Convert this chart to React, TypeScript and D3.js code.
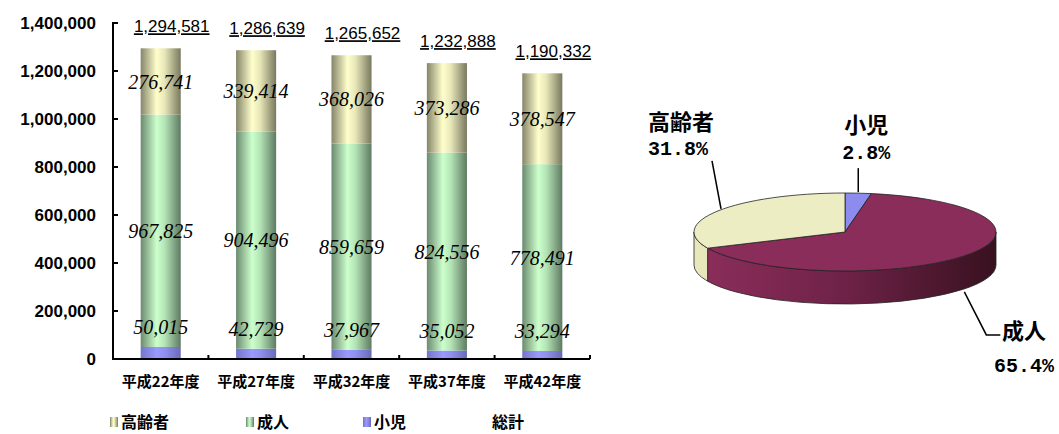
import React from 'react';
import * as d3 from 'd3';

const categories = ['平成22年度', '平成27年度', '平成32年度', '平成37年度', '平成42年度'];
const children = [50015, 42729, 37967, 35052, 33294];
const adults = [967825, 904496, 859659, 824556, 778491];
const elderly = [276741, 339414, 368026, 373286, 378547];
const totals = [1294581, 1286639, 1265652, 1232888, 1190332];
const yTicks = [0, 200000, 400000, 600000, 800000, 1000000, 1200000, 1400000];
const legendNames = ['高齢者', '成人', '小児', '総計'];
const pieNames = ['小児', '成人', '高齢者'];
const pieValues = [children[4], adults[4], elderly[4]];

const W = 1059;
const H = 434;
const plot = { left: 113, right: 590, top: 23, bottom: 359 };
const fmt = d3.format(',');
const pct = d3.format('.1%');

export default function App() {
  const x = d3
    .scaleBand<string>()
    .domain(categories)
    .range([plot.left, plot.right])
    .paddingInner(0.58)
    .paddingOuter(0.29);
  const y = d3.scaleLinear().domain([0, 1400000]).range([plot.bottom, plot.top]);
  const bw = x.bandwidth();

  const stacks = categories.map((c, i) => {
    const c0 = 0;
    const c1 = children[i];
    const a1 = c1 + adults[i];
    const e1 = a1 + elderly[i];
    return { c, c0, c1, a1, e1 };
  });

  // Pie
  const cx = 845, cy = 232, rx = 151, ry = 39, depth = 33;
  const arcs = d3.pie<number>().sort(null).startAngle(0).endAngle(2 * Math.PI)(pieValues);
  const total = d3.sum(pieValues);
  const pt = (t: number, dy = 0) => [cx + rx * Math.sin(t), cy - ry * Math.cos(t) + dy];
  const topPath = (a: number, b: number) => {
    const p0 = pt(a), p1 = pt(b);
    const large = b - a > Math.PI ? 1 : 0;
    return `M${cx},${cy}L${p0[0]},${p0[1]}A${rx},${ry} 0 ${large} 1 ${p1[0]},${p1[1]}Z`;
  };
  const sidePath = (a: number, b: number) => {
    const s = Math.max(a, Math.PI / 2), e = Math.min(b, (3 * Math.PI) / 2);
    if (s >= e) return null;
    const p0 = pt(s), p1 = pt(e), q1 = pt(e, depth), q0 = pt(s, depth);
    const large = e - s > Math.PI ? 1 : 0;
    return `M${p0[0]},${p0[1]}A${rx},${ry} 0 ${large} 1 ${p1[0]},${p1[1]}L${q1[0]},${q1[1]}A${rx},${ry} 0 ${large} 0 ${q0[0]},${q0[1]}Z`;
  };
  const pieTop = ['#8c8cee', '#8b2d5b', '#ededc4'];
  const pieSide = ['url(#sideChild)', 'url(#sideAdult)', 'url(#sideElder)'];

  const mid = (i: number) => (arcs[i].startAngle + arcs[i].endAngle) / 2;
  const childAnchor = pt(mid(0));
  const elderAnchor = pt(mid(2));
  const adultAnchor = pt(mid(1), depth);

  const cjk = '"Noto Sans CJK JP", sans-serif';
  const segFont = { fontFamily: '"Liberation Serif", serif', fontStyle: 'italic' as const, fontSize: 20, fill: '#000' };

  return (
    <svg width={W} height={H} style={{ position: 'absolute', left: 0, top: 0, background: '#fff' }}>
      <defs>
        <linearGradient id="gElder" x1="0" x2="1" y1="0" y2="0">
          <stop offset="0" stopColor="#85856a" />
          <stop offset="0.4" stopColor="#ffffcc" />
          <stop offset="0.6" stopColor="#e6e6b8" />
          <stop offset="1" stopColor="#78785f" />
        </linearGradient>
        <linearGradient id="gAdult" x1="0" x2="1" y1="0" y2="0">
          <stop offset="0" stopColor="#6c8a70" />
          <stop offset="0.4" stopColor="#ccffcc" />
          <stop offset="0.6" stopColor="#b4e4b6" />
          <stop offset="1" stopColor="#5e7a62" />
        </linearGradient>
        <linearGradient id="gChild" x1="0" x2="1" y1="0" y2="0">
          <stop offset="0" stopColor="#7474cc" />
          <stop offset="0.4" stopColor="#9999ff" />
          <stop offset="0.6" stopColor="#9090f0" />
          <stop offset="1" stopColor="#6a6ab8" />
        </linearGradient>
        <linearGradient id="sideAdult" gradientUnits="userSpaceOnUse" x1={cx - rx} x2={cx + rx} y1="0" y2="0">
          <stop offset="0" stopColor="#8d2e5c" />
          <stop offset="0.5" stopColor="#6e2247" />
          <stop offset="1" stopColor="#38111f" />
        </linearGradient>
        <linearGradient id="sideElder" gradientUnits="userSpaceOnUse" x1={cx - rx} x2={cx + rx} y1="0" y2="0">
          <stop offset="0" stopColor="#e8e8bc" />
          <stop offset="1" stopColor="#b0b08a" />
        </linearGradient>
        <linearGradient id="sideChild" gradientUnits="userSpaceOnUse" x1={cx - rx} x2={cx + rx} y1="0" y2="0">
          <stop offset="0" stopColor="#7c7cd8" />
          <stop offset="1" stopColor="#4a4a90" />
        </linearGradient>
      </defs>

      {/* Bars */}
      {stacks.map((s) => {
        const x0 = x(s.c)!;
        return (
          <g key={s.c}>
            <rect x={x0} y={y(s.c1)} width={bw} height={y(s.c0) - y(s.c1)} fill="url(#gChild)" />
            <rect x={x0} y={y(s.a1)} width={bw} height={y(s.c1) - y(s.a1)} fill="url(#gAdult)" />
            <rect x={x0} y={y(s.e1)} width={bw} height={y(s.a1) - y(s.e1)} fill="url(#gElder)" />
          </g>
        );
      })}

      {/* Axes */}
      <line x1={plot.left} x2={plot.left} y1={plot.top - 1} y2={plot.bottom + 1} stroke="#000" strokeWidth={2} />
      <line x1={plot.left} x2={plot.right} y1={plot.bottom} y2={plot.bottom} stroke="#000" strokeWidth={2} />
      {yTicks.map((t) => (
        <g key={t}>
          <line x1={plot.left} x2={plot.left + 5} y1={y(t)} y2={y(t)} stroke="#000" strokeWidth={2} />
          <text x={96} y={y(t)} textAnchor="end" dominantBaseline="central" fontFamily='"Liberation Sans", sans-serif' fontWeight="bold" fontSize={17} fill="#000">
            {fmt(t)}
          </text>
        </g>
      ))}
      {categories.map((c) => (
        <g key={c}>
          <line x1={x(c)! - x.step() * x.paddingOuter() + x.step()} x2={x(c)! - x.step() * x.paddingOuter() + x.step()} y1={plot.bottom} y2={plot.bottom - 4} stroke="#000" strokeWidth={2} />
          <text x={x(c)! + bw / 2} y={380} textAnchor="middle" dominantBaseline="central" fontFamily={cjk} fontWeight="bold" fontSize={15} fill="#000">
            {c}
          </text>
        </g>
      ))}

      {/* Segment labels */}
      {stacks.map((s, i) => {
        const cxb = x(s.c)! + bw / 2;
        return (
          <g key={'l' + s.c}>
            <text x={cxb} y={(y(s.a1) + y(s.e1)) / 2} textAnchor="middle" dominantBaseline="central" {...segFont}>{fmt(elderly[i])}</text>
            <text x={cxb} y={(y(s.c1) + y(s.a1)) / 2} textAnchor="middle" dominantBaseline="central" {...segFont}>{fmt(adults[i])}</text>
            <text x={cxb} y={y(s.c1) - 20} textAnchor="middle" dominantBaseline="central" {...segFont}>{fmt(children[i])}</text>
            <text x={cxb + 11} y={y(s.e1) - 16} textAnchor="middle" fontFamily='"Liberation Sans", sans-serif' fontSize={17} fill="#000" textDecoration="underline">
              {fmt(totals[i])}
            </text>
          </g>
        );
      })}

      {/* Legend */}
      {[
        { name: legendNames[0], mx: 110, fill: 'url(#gElder)' },
        { name: legendNames[1], mx: 246, fill: 'url(#gAdult)' },
        { name: legendNames[2], mx: 363, fill: 'url(#gChild)' },
        { name: legendNames[3], mx: 481, fill: 'none' },
      ].map((l) => (
        <g key={l.name}>
          <rect x={l.mx} y={417} width={8} height={10} fill={l.fill} />
          <text x={l.mx + 11} y={421} dominantBaseline="central" fontFamily={cjk} fontWeight="bold" fontSize={16} fill="#000">
            {l.name}
          </text>
        </g>
      ))}

      {/* Pie sides */}
      {arcs.map((a, i) => {
        const p = sidePath(a.startAngle, a.endAngle);
        return p ? <path key={'s' + i} d={p} fill={pieSide[i]} stroke="#222" strokeWidth={0.8} /> : null;
      })}
      {arcs.map((a, i) => (
        <path key={'t' + i} d={topPath(a.startAngle, a.endAngle)} fill={pieTop[i]} stroke="#222" strokeWidth={0.8} />
      ))}

      {/* Pie labels */}
      <polyline points={`${childAnchor[0]},${childAnchor[1] - 1} ${childAnchor[0]},${childAnchor[1] - 25}`} fill="none" stroke="#000" strokeWidth={1.5} />
      <polyline points={`${elderAnchor[0] + 3},${elderAnchor[1] - 2} ${elderAnchor[0] - 6},${elderAnchor[1] - 50}`} fill="none" stroke="#000" strokeWidth={1.5} />
      <polyline points={`${adultAnchor[0]},${adultAnchor[1] + 3} ${adultAnchor[0] + 22},${adultAnchor[1] + 46} ${adultAnchor[0] + 36},${adultAnchor[1] + 46}`} fill="none" stroke="#000" strokeWidth={1.5} />

      <text x={childAnchor[0] + 8} y={123} textAnchor="middle" dominantBaseline="central" fontFamily={cjk} fontWeight="bold" fontSize={22} fill="#000">{pieNames[0]}</text>
      <text x={childAnchor[0] + 8} y={153} textAnchor="middle" dominantBaseline="central" fontFamily='"Liberation Mono", monospace' fontWeight="bold" fontSize={20} fill="#000">{pct(pieValues[0] / total)}</text>

      <text x={681} y={120} textAnchor="middle" dominantBaseline="central" fontFamily={cjk} fontWeight="bold" fontSize={22} fill="#000">{pieNames[2]}</text>
      <text x={678} y={149} textAnchor="middle" dominantBaseline="central" fontFamily='"Liberation Mono", monospace' fontWeight="bold" fontSize={20} fill="#000">{pct(pieValues[2] / total)}</text>

      <text x={1024} y={329} textAnchor="middle" dominantBaseline="central" fontFamily={cjk} fontWeight="bold" fontSize={22} fill="#000">{pieNames[1]}</text>
      <text x={1024} y={366} textAnchor="middle" dominantBaseline="central" fontFamily='"Liberation Mono", monospace' fontWeight="bold" fontSize={20} fill="#000">{pct(pieValues[1] / total)}</text>
    </svg>
  );
}
